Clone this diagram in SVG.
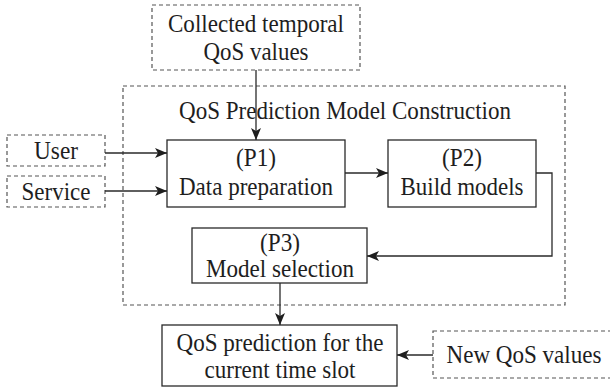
<svg xmlns="http://www.w3.org/2000/svg" width="610" height="387" viewBox="0 0 610 387">
<style>
  text { font-family: "Liberation Serif", "Times New Roman", serif; font-size: 25px; fill: #1e1e1e; text-anchor: middle; }
  .solid { fill: #fff; stroke: #2a2a2a; stroke-width: 1.3; }
  .dash { fill: none; stroke: #555; stroke-width: 1.2; stroke-dasharray: 4 3; }
  .conn { fill: none; stroke: #2a2a2a; stroke-width: 1.3; }
</style>
<defs>
  <marker id="arr" viewBox="0 0 12 10" refX="12" refY="5" markerWidth="12" markerHeight="10" markerUnits="userSpaceOnUse" orient="auto">
    <path d="M0,0 L12,5 L0,10 L3,5 Z" fill="#1e1e1e"/>
  </marker>
</defs>
<rect width="610" height="387" fill="#fff"/>
<g id="construction">
  <rect class="dash" x="123" y="86" width="442" height="219"/>
  <text x="345" y="119" textLength="332" lengthAdjust="spacingAndGlyphs">QoS Prediction Model Construction</text>
</g>
<g id="collected">
  <rect class="dash" x="152" y="5" width="208" height="65"/>
  <text x="256" y="32" textLength="176" lengthAdjust="spacingAndGlyphs">Collected temporal</text>
  <text x="256" y="60" textLength="105" lengthAdjust="spacingAndGlyphs">QoS values</text>
</g>
<g id="user">
  <rect class="dash" x="7" y="135" width="98" height="31"/>
  <text x="56" y="159" textLength="44" lengthAdjust="spacingAndGlyphs">User</text>
</g>
<g id="service">
  <rect class="dash" x="7" y="176" width="98" height="31"/>
  <text x="56" y="200" textLength="69" lengthAdjust="spacingAndGlyphs">Service</text>
</g>
<g id="p1">
  <rect class="solid" x="167" y="140" width="178" height="67"/>
  <text x="256" y="166" textLength="40" lengthAdjust="spacingAndGlyphs">(P1)</text>
  <text x="256" y="195" textLength="154" lengthAdjust="spacingAndGlyphs">Data preparation</text>
</g>
<g id="p2">
  <rect class="solid" x="388" y="140" width="148" height="67"/>
  <text x="462" y="166" textLength="40" lengthAdjust="spacingAndGlyphs">(P2)</text>
  <text x="462" y="195" textLength="123" lengthAdjust="spacingAndGlyphs">Build models</text>
</g>
<g id="p3">
  <rect class="solid" x="192" y="228" width="175" height="55"/>
  <text x="280" y="251" textLength="40" lengthAdjust="spacingAndGlyphs">(P3)</text>
  <text x="280" y="277" textLength="148" lengthAdjust="spacingAndGlyphs">Model selection</text>
</g>
<g id="prediction">
  <rect class="solid" x="162" y="325" width="235" height="61"/>
  <text x="280" y="351" textLength="207" lengthAdjust="spacingAndGlyphs">QoS prediction for the</text>
  <text x="280" y="378" textLength="151" lengthAdjust="spacingAndGlyphs">current time slot</text>
</g>
<g id="newqos">
  <rect class="dash" x="433" y="331" width="185" height="47"/>
  <text x="524" y="363" textLength="155" lengthAdjust="spacingAndGlyphs">New QoS values</text>
</g>
<g id="connectors">
  <path class="conn" d="M256,70 V140" marker-end="url(#arr)"/>
  <path class="conn" d="M105,153 H167" marker-end="url(#arr)"/>
  <path class="conn" d="M105,191 H167" marker-end="url(#arr)"/>
  <path class="conn" d="M345,173 H388" marker-end="url(#arr)"/>
  <path class="conn" d="M536,173 H552 V256 H367" marker-end="url(#arr)"/>
  <path class="conn" d="M280,283 V325" marker-end="url(#arr)"/>
  <path class="conn" d="M433,355 H397" marker-end="url(#arr)"/>
</g>
</svg>
